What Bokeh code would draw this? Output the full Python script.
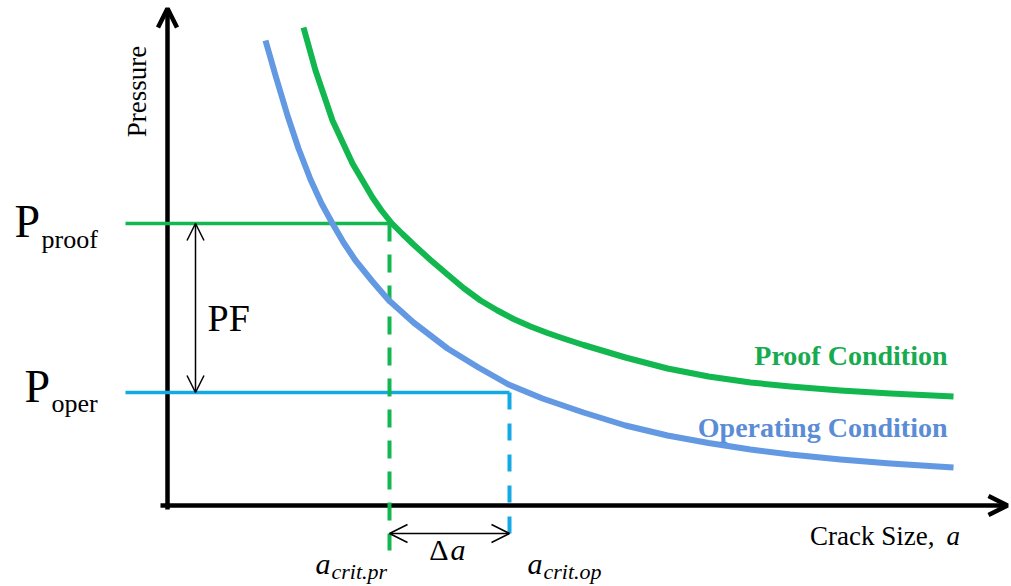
import math
from bokeh.plotting import figure
from bokeh.models import Range1d, Arrow, OpenHead, Label
from bokeh.embed import file_html
from bokeh.resources import INLINE

# ---- data (crack size a, pressure P; arbitrary units) ----
proof_a = [1.36, 1.48, 1.65, 1.85, 2.05, 2.14, 2.24, 2.35, 2.46, 2.63, 2.80, 2.96, 3.13, 3.30, 3.46,
           3.63, 3.80, 3.96, 4.16, 4.58, 5.00, 5.41, 5.83, 6.23, 6.73, 7.23, 7.86]
proof_p = [4.78, 4.35, 3.85, 3.42, 3.08, 2.95, 2.825, 2.715, 2.61, 2.455, 2.31, 2.175, 2.05, 1.95, 1.865,
           1.79, 1.725, 1.67, 1.605, 1.48, 1.37, 1.29, 1.23, 1.19, 1.15, 1.12, 1.09]

oper_a = [0.98, 1.08, 1.20, 1.31, 1.43, 1.54, 1.65, 1.76, 1.88, 2.05, 2.21, 2.46, 2.80, 3.11, 3.41,
          3.75, 4.16, 4.58, 5.00, 5.41, 5.83, 6.23, 6.73, 7.23, 7.86]
oper_p = [4.65, 4.30, 3.90, 3.57, 3.26, 3.02, 2.82, 2.63, 2.45, 2.24, 2.055, 1.83, 1.57, 1.38, 1.21,
          1.07, 0.93, 0.80, 0.70, 0.625, 0.56, 0.51, 0.46, 0.42, 0.38]

P_PROOF = 2.82
P_OPER = 1.13
A_CRIT_PR = 2.22
A_CRIT_OP = 3.42

series_labels = ["Proof Condition", "Operating Condition"]
axis_labels = ["Pressure", "Crack Size,", "a"]

GREEN = "#12b84f"
GREEN_TXT = "#17ab4f"
BLUE = "#6399e2"
BLUE_TXT = "#5b8dd6"
CYAN = "#14a9e4"
SERIF = "Liberation Serif"

p = figure(width=1011, height=586, x_range=Range1d(-1.67, 8.44), y_range=Range1d(-0.81, 5.05),
           output_backend="svg", toolbar_location=None, min_border=0,
           x_axis_location=None, y_axis_location=None)
p.grid.visible = False
p.outline_line_color = None
p.background_fill_color = "white"
p.border_fill_color = "white"

# axes with arrow heads
p.add_layout(Arrow(x_start=0, y_start=-0.04, x_end=0, y_end=4.97, line_width=4.5, line_color="black",
                   end=OpenHead(size=19, line_width=4.5, line_color="black"), start=None, level="underlay"))
p.add_layout(Arrow(x_start=-0.07, y_start=0, x_end=8.40, y_end=0, line_width=4.5, line_color="black",
                   end=OpenHead(size=19, line_width=4.5, line_color="black"), start=None, level="underlay"))

# horizontal pressure levels
p.line([-0.42, A_CRIT_PR], [P_PROOF, P_PROOF], line_color=GREEN, line_width=3.5)
p.line([-0.42, A_CRIT_OP], [P_OPER, P_OPER], line_color=CYAN, line_width=3.5)

# dashed critical crack sizes
p.line([A_CRIT_PR, A_CRIT_PR], [P_PROOF, -0.45], line_color=GREEN, line_width=4, line_dash="18 13")
p.line([A_CRIT_OP, A_CRIT_OP], [P_OPER, -0.32], line_color=CYAN, line_width=4, line_dash="17 14")

# curves
p.line(proof_a, proof_p, line_color=GREEN, line_width=6, line_join="round", line_cap="butt")
p.line(oper_a, oper_p, line_color=BLUE, line_width=6, line_join="round", line_cap="butt")

# PF double arrow
p.add_layout(Arrow(x_start=0.28, y_start=P_OPER, x_end=0.28, y_end=P_PROOF, line_width=1.5, line_color="black",
                   start=OpenHead(size=17, line_width=1.5, line_color="black"),
                   end=OpenHead(size=17, line_width=1.5, line_color="black")))
# delta a double arrow
p.add_layout(Arrow(x_start=A_CRIT_PR, y_start=-0.28, x_end=A_CRIT_OP, y_end=-0.28, line_width=1.5, line_color="black",
                   start=OpenHead(size=18, line_width=1.5, line_color="black"),
                   end=OpenHead(size=18, line_width=1.5, line_color="black")))

def lab(x, y, text, size, style="normal", color="black", align="left", baseline="alphabetic",
        angle=0.0, xo=0, yo=0):
    if baseline == "alphabetic":
        yo += 0.36 * size   # compensate renderer's baseline placement
    p.add_layout(Label(x=x, y=y, text=text, text_font=SERIF, text_font_size=f"{size}px",
                       text_font_style=style, text_color=color, text_align=align,
                       text_baseline=baseline, angle=angle, x_offset=xo, y_offset=yo))

# P labels
lab(-1.53, P_PROOF, "P", 46, yo=-15)
lab(-1.26, P_PROOF, "proof", 26, yo=-25)
lab(-1.43, P_OPER, "P", 46, yo=-11)
lab(-1.16, P_OPER, "oper", 26, yo=-20)

# PF
lab(0.40, (P_PROOF + P_OPER) / 2, "PF", 38, yo=-24)

# Delta a
mid = (A_CRIT_PR + A_CRIT_OP) / 2
lab(mid, -0.55, "\u0394", 30, align="right", xo=-1)
lab(mid, -0.55, "a", 30, style="italic", xo=1)

# a_crit labels
lab(1.48, -0.69, "a", 30, style="italic")
lab(1.64, -0.74, "crit.pr", 22, style="italic")
lab(3.60, -0.69, "a", 30, style="italic")
lab(3.76, -0.74, "crit.op", 22, style="italic")

# axis titles
lab(-0.31, 4.14, axis_labels[0], 27, align="center", baseline="middle", angle=math.pi / 2)
lab(7.67, -0.40, axis_labels[1], 27, align="right")
lab(7.79, -0.40, axis_labels[2], 27, style="italic")

# series labels
lab(7.80, 1.40, series_labels[0], 28, style="bold", color=GREEN_TXT, align="right")
lab(7.80, 0.68, series_labels[1], 28, style="bold", color=BLUE_TXT, align="right")

open("out.html", "w").write(file_html(p, INLINE))
